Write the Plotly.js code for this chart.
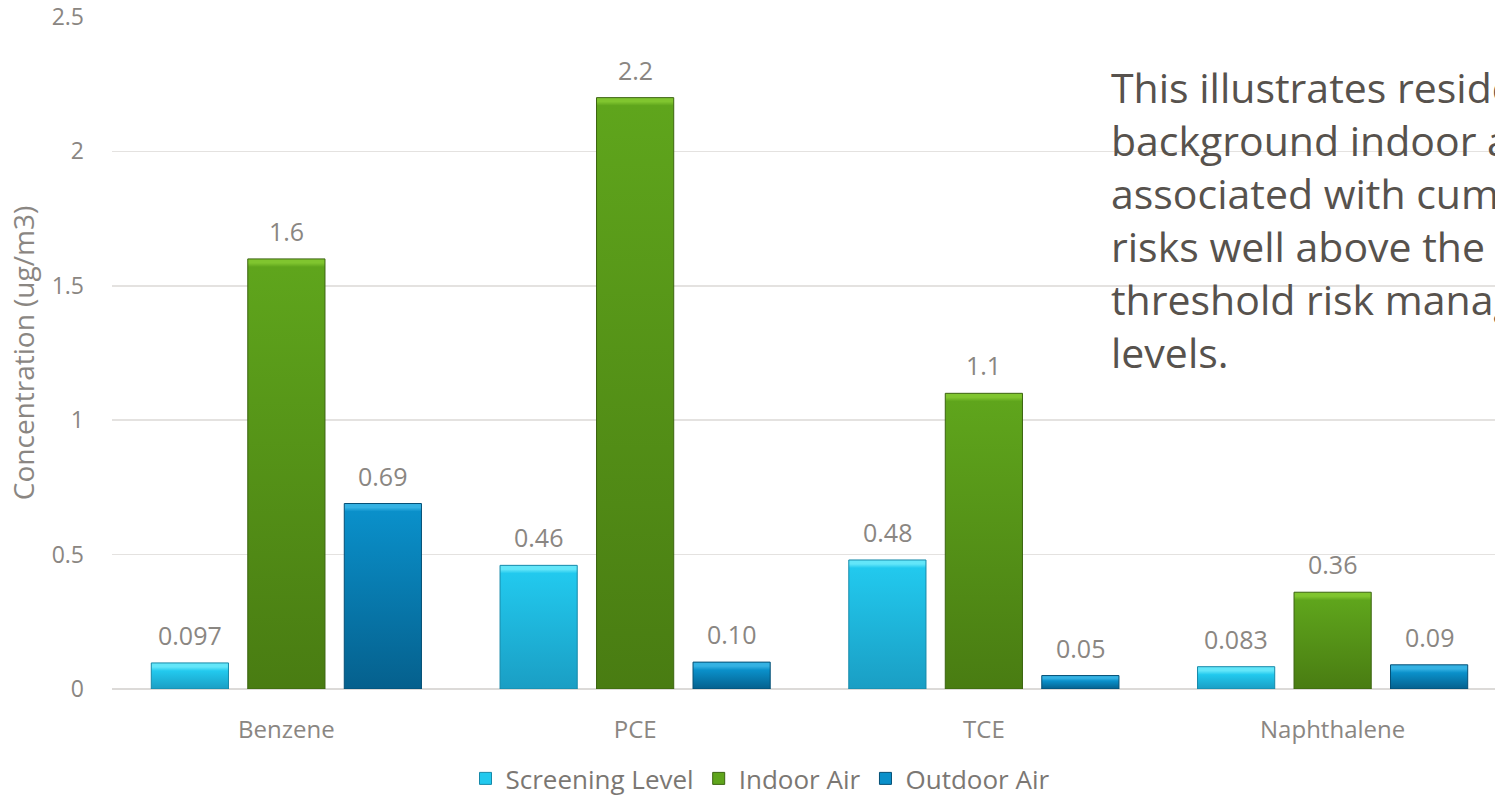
<!DOCTYPE html>
<html>
<head>
<meta charset="utf-8">
<script src="https://cdn.plot.ly/plotly-3.0.1.min.js"></script>
<style>
  html, body { margin: 0; padding: 0; background: #ffffff; overflow: hidden; }
  #chart { width: 1520px; height: 796px; }
</style>
</head>
<body>
<div id="chart"></div>
<script>
// Measured concentrations per compound (ug/m3)
const categories = ['Benzene', 'PCE', 'TCE', 'Naphthalene'];
const screeningLevel = [0.097, 0.46, 0.48, 0.083];
const indoorAir = [1.6, 2.2, 1.1, 0.36];
const outdoorAir = [0.69, 0.10, 0.05, 0.09];

// Data labels as printed above each bar
const screeningLabels = ['0.097', '0.46', '0.48', '0.083'];
const indoorLabels = ['1.6', '2.2', '1.1', '0.36'];
const outdoorLabels = ['0.69', '0.10', '0.05', '0.09'];

const yTickValues = [0, 0.5, 1, 1.5, 2, 2.5];
const yTickLabels = ['0', '0.5', '1', '1.5', '2', '2.5'];

const noteLines = [
  'This illustrates residential',
  'background indoor air',
  'associated with cumulative',
  'risks well above the',
  'threshold risk management',
  'levels.'
];

const FONT = '"Open Sans", Lato, sans-serif';
const GREY = '#8a8682';

// bar colours: [bevel highlight, body top, body bottom, edge]
const palette = [
  ['#63e6f9', '#22c9ee', '#1a9ec4', '#1689a9'],
  ['#80c52f', '#5fa51c', '#497c12', '#3b6410'],
  ['#35b2e3', '#0a90ca', '#05608d', '#044f75']
];

const series = [
  { name: 'Screening Level', values: screeningLevel, labels: screeningLabels },
  { name: 'Indoor Air', values: indoorAir, labels: indoorLabels },
  { name: 'Outdoor Air', values: outdoorAir, labels: outdoorLabels }
];

const W = 1520, H = 796;
const margin = { l: 112, r: 13, t: 17, b: 107, pad: 0 };
const bargap = 0.17;

const traces = series.map((s, i) => ({
  type: 'bar',
  name: s.name,
  x: categories,
  y: s.values,
  marker: { color: palette[i][1], line: { color: palette[i][3], width: 1 } },
  hoverinfo: 'x+y+name'
}));

// value labels sit centred over each bar in its group slot
const plotW = W - margin.l - margin.r;
const slotPx = plotW / categories.length * (1 - bargap) / series.length;
const annotations = [];
series.forEach((s, i) => {
  s.values.forEach((v, j) => {
    annotations.push({
      x: categories[j], y: v, xref: 'x', yref: 'y',
      text: s.labels[j], showarrow: false,
      xshift: (i - 1) * slotPx, yshift: 9, yanchor: 'bottom',
      font: { family: FONT, size: 25, color: GREY }
    });
  });
});

noteLines.forEach((line, k) => {
  annotations.push({
    x: (1109 - margin.l) / plotW, y: 1, xref: 'paper', yref: 'paper',
    xanchor: 'left', yanchor: 'top', yshift: -40 - k * 53,
    text: line, showarrow: false, align: 'left',
    font: { family: FONT, size: 41, color: '#57524d' }
  });
});

const layout = {
  width: W, height: H,
  margin: margin,
  paper_bgcolor: '#ffffff', plot_bgcolor: '#ffffff',
  barmode: 'group', bargap: bargap, bargroupgap: 0.2,
  showlegend: true,
  legend: {
    orientation: 'h', xref: 'container', yref: 'container',
    x: 0.5, xanchor: 'center', y: 0.022, yanchor: 'middle',
    font: { family: FONT, size: 26, color: '#7b7773' },
    itemwidth: 30, tracegroupgap: 0
  },
  xaxis: {
    type: 'category', showgrid: false, zeroline: false, showline: false,
    ticks: '', ticklabelstandoff: 24,
    tickfont: { family: FONT, size: 24, color: GREY },
    fixedrange: true
  },
  yaxis: {
    range: [0, 2.5], tickvals: yTickValues, ticktext: yTickLabels,
    showgrid: true, gridcolor: '#e4e2e0', gridwidth: 1.5,
    zeroline: true, zerolinecolor: '#dcdad8', zerolinewidth: 2,
    showline: false, ticks: '', ticklabelstandoff: 27,
    tickfont: { family: FONT, size: 23, color: GREY },
    title: { text: 'Concentration (ug/m3)', standoff: 8,
             font: { family: FONT, size: 28, color: GREY } },
    fixedrange: true
  },
  shapes: [{
    type: 'rect', layer: 'between', xref: 'paper', yref: 'y',
    x0: (293 - margin.l) / plotW, x1: (460 - margin.l) / plotW, y0: 1.97, y1: 2.03,
    fillcolor: '#ffffff', line: { width: 0 }
  }],
  annotations: annotations,
  font: { family: FONT }
};

Plotly.newPlot('chart', traces, layout, { displayModeBar: false, staticPlot: true }).then(gd => {
  // give every bar a vertical shade with a bevelled highlight along its top
  const svg = gd.querySelector('.main-svg');
  const NS = 'http://www.w3.org/2000/svg';
  let defs = svg.querySelector('defs');
  if (!defs) { defs = document.createElementNS(NS, 'defs'); svg.insertBefore(defs, svg.firstChild); }
  let n = 0;
  gd.querySelectorAll('.barlayer .trace').forEach((tr, i) => {
    const c = palette[i];
    tr.querySelectorAll('.point path').forEach(p => {
      const b = p.getBBox();
      if (b.height <= 0) return;
      const id = 'barShade' + (n++);
      const g = document.createElementNS(NS, 'linearGradient');
      g.setAttribute('id', id);
      g.setAttribute('gradientUnits', 'userSpaceOnUse');
      g.setAttribute('x1', 0); g.setAttribute('x2', 0);
      g.setAttribute('y1', b.y); g.setAttribute('y2', b.y + b.height);
      const bevel = Math.min(8, b.height * 0.4) / b.height;
      [[0, c[0]], [bevel * 0.5, c[0]], [bevel, c[1]], [1, c[2]]].forEach(([o, col]) => {
        const st = document.createElementNS(NS, 'stop');
        st.setAttribute('offset', o);
        st.setAttribute('stop-color', col);
        g.appendChild(st);
      });
      defs.appendChild(g);
      p.style.fill = 'url(#' + id + ')';
    });
  });
});
</script>
</body>
</html>
